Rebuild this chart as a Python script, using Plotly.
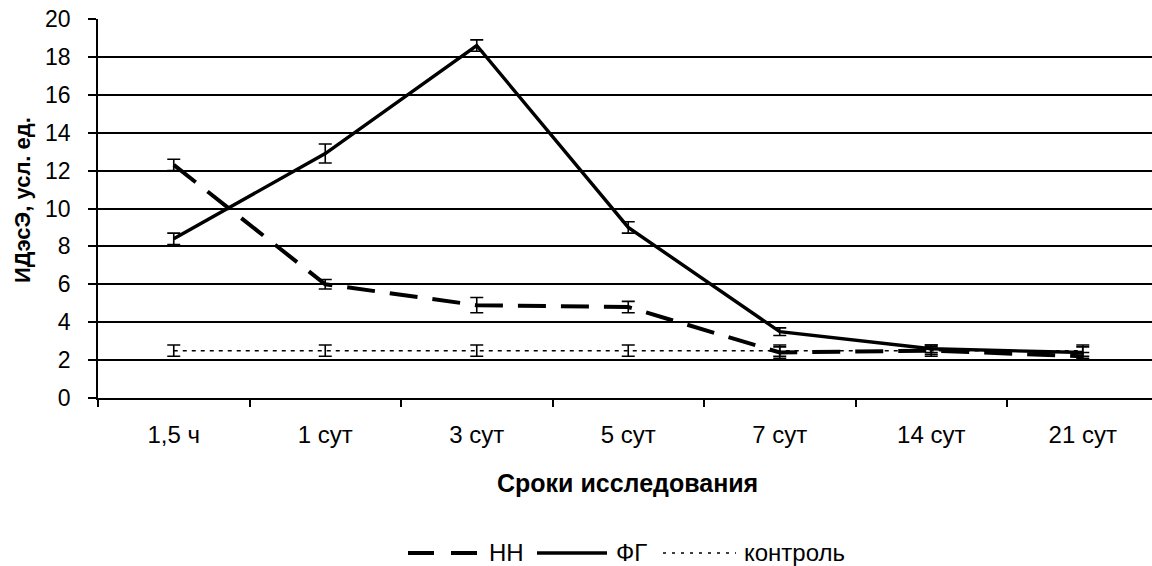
import plotly.graph_objects as go

# ---- data ----
categories = ["1,5 ч", "1 сут", "3 сут", "5 сут", "7 сут", "14 сут", "21 сут"]
nn_values = [12.3, 6.0, 4.9, 4.8, 2.4, 2.5, 2.2]
nn_errors = [0.3, 0.25, 0.4, 0.3, 0.3, 0.2, 0.2]
fg_values = [8.4, 12.9, 18.6, 9.0, 3.5, 2.6, 2.4]
fg_errors = [0.3, 0.5, 0.3, 0.3, 0.2, 0.2, 0.3]
ctrl_values = [2.5, 2.5, 2.5, 2.5, 2.5, 2.5, 2.5]
ctrl_errors = [0.3, 0.3, 0.3, 0.3, 0.3, 0.3, 0.3]
y_tick_values = [0, 2, 4, 6, 8, 10, 12, 14, 16, 18, 20]
series_names = ["НН", "ФГ", "контроль"]
x_title = "Сроки исследования"
y_title = "ИДэсЭ, усл. ед."

FONT = "Liberation Sans, Arial, sans-serif"
W, H = 1152, 566
ML, MR, MT, MB = 98, 0, 19, 168
PW, PH = W - ML - MR, H - MT - MB


def px(x):
    return (x - ML) / PW


def py(y):
    return (H - MB - y) / PH


err_style = dict(type="data", color="black", thickness=1.6, width=6.5, visible=True)

fig = go.Figure()
fig.add_trace(go.Scatter(
    x=categories, y=nn_values, name=series_names[0], mode="lines",
    line=dict(color="black", width=4, dash="28px,15px"),
    error_y=dict(array=nn_errors, **err_style), showlegend=False))
fig.add_trace(go.Scatter(
    x=categories, y=fg_values, name=series_names[1], mode="lines",
    line=dict(color="black", width=3.4),
    error_y=dict(array=fg_errors, **err_style), showlegend=False))
fig.add_trace(go.Scatter(
    x=categories, y=ctrl_values, name=series_names[2], mode="lines",
    line=dict(color="black", width=1.5, dash="4px,5px"),
    error_y=dict(array=ctrl_errors, **err_style), showlegend=False))

fig.update_layout(
    width=W, height=H, autosize=False,
    margin=dict(l=ML, r=MR, t=MT, b=MB, pad=0),
    paper_bgcolor="white", plot_bgcolor="white",
    font=dict(family=FONT, size=23, color="black"),
    xaxis=dict(
        type="category", categoryorder="array", categoryarray=categories,
        range=[-0.5, -0.5 + PW / 151.5],
        showline=True, linecolor="black", linewidth=1.5,
        ticks="outside", ticklen=7, tickwidth=1.5, tickcolor="black",
        tickson="boundaries", showgrid=False, zeroline=False,
        tickfont=dict(family=FONT, size=24, color="black"),
        ticklabelstandoff=14,
    ),
    yaxis=dict(
        range=[0, 20], tickmode="array", tickvals=y_tick_values,
        showline=True, linecolor="black", linewidth=1.5,
        ticks="outside", ticklen=8, tickwidth=1.5, tickcolor="black",
        showgrid=True, gridcolor="black", gridwidth=1.5, zeroline=False,
        tickfont=dict(family=FONT, size=23, color="black"),
        ticklabelstandoff=13,
    ),
)

annotations = [
    dict(text="<b>" + x_title + "</b>", xref="paper", yref="paper",
         x=px(627), y=py(483), xanchor="center", yanchor="middle",
         showarrow=False, font=dict(family=FONT, size=25, color="black")),
    dict(text="<b>" + y_title + "</b>", xref="paper", yref="paper",
         x=px(23), y=py(200), xanchor="center", yanchor="middle", textangle=-90,
         showarrow=False, font=dict(family=FONT, size=22, color="black")),
]

# manual legend
leg_y = 553
legend_items = [
    (series_names[0], 408, 478, dict(color="black", width=4, dash="26px,17px"), 487),
    (series_names[1], 537, 607, dict(color="black", width=3.4), 614),
    (series_names[2], 663, 736, dict(color="black", width=1.5, dash="3px,6px"), 742),
]
shapes = []
for name, x0, x1, line, tx in legend_items:
    shapes.append(dict(type="line", xref="paper", yref="paper",
                       x0=px(x0), x1=px(x1), y0=py(leg_y), y1=py(leg_y), line=line))
    annotations.append(dict(text=name, xref="paper", yref="paper",
                            x=px(tx), y=py(leg_y - 1), xanchor="left", yanchor="middle",
                            showarrow=False, font=dict(family=FONT, size=24, color="black")))

fig.update_layout(annotations=annotations, shapes=shapes)
fig.write_html("out.html")
